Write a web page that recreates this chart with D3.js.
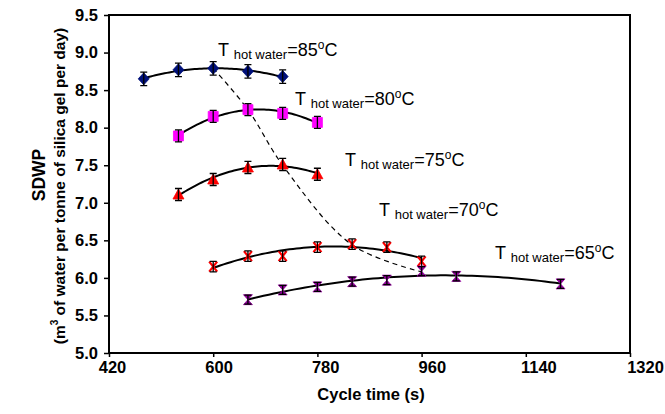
<!DOCTYPE html>
<html>
<head>
<meta charset="utf-8">
<script src="https://cdn.jsdelivr.net/npm/d3@7"></script>
<style>
  body { margin: 0; background: #fff; }
  svg { font-family: "Liberation Sans", Arial, sans-serif; }
</style>
</head>
<body>
<svg id="chart" width="665" height="414"></svg>
<script>
// cycle times (s) and SDWP for each hot water temperature
const time85 = [480, 540, 600, 660, 720];
const sdwp85 = [8.65, 8.77, 8.79, 8.75, 8.68];
const time80 = [540, 600, 660, 720, 780];
const sdwp80 = [7.89, 8.15, 8.24, 8.19, 8.07];
const time75 = [540, 600, 660, 720, 780];
const sdwp75 = [7.11, 7.31, 7.47, 7.51, 7.38];
const time70 = [600, 660, 720, 780, 840, 900, 960];
const sdwp70 = [6.15, 6.29, 6.29, 6.41, 6.45, 6.41, 6.22];
const time65 = [660, 720, 780, 840, 900, 960, 1020, 1200];
const sdwp65 = [5.71, 5.84, 5.88, 5.95, 5.97, 6.09, 6.02, 5.92];
const errBar = [0.09, 0.08, 0.08, 0.07, 0.06];

// optimum cycle time line (dashed)
const optTime = [600, 660, 720, 840, 960];
const optSdwp = [8.79, 8.24, 7.50, 6.44, 6.08];

const temps = ['85', '80', '75', '70', '65'];
const xTicks = [420, 600, 780, 960, 1140, 1320];
const yTicks = [5.0, 5.5, 6.0, 6.5, 7.0, 7.5, 8.0, 8.5, 9.0, 9.5];

const svg = d3.select('#chart');
const plot = {left: 109, right: 630, top: 15, bottom: 353};

let x = d3.scaleLinear().domain([420, 1320]).range([plot.left, plot.right]);
let y = d3.scaleLinear().domain([5.0, 9.5]).range([plot.bottom, plot.top]);

const series = [
    {t: time85, v: sdwp85, marker: 'diamond', color: '#00107a', label: [218, 56]},
    {t: time80, v: sdwp80, marker: 'square', color: '#ff00ff', label: [295, 105]},
    {t: time75, v: sdwp75, marker: 'triangle', color: '#ff0000', label: [345, 166]},
    {t: time70, v: sdwp70, marker: 'cross', color: '#ff0000', label: [379, 216]},
    {t: time65, v: sdwp65, marker: 'hourglass', color: '#90009a', label: [495, 259]},
];
series.forEach((s, i) => { s.err = errBar[i]; s.temp = temps[i]; });

// least squares quadratic, like the spreadsheet trendline
let quadFit = function(ts, vs) {
    let m = d3.mean(ts);
    let S = [0, 0, 0, 0, 0], T = [0, 0, 0];
    ts.forEach((t, i) => {
        let u = t - m;
        for (let k = 0; k < 5; k++) S[k] += Math.pow(u, k);
        for (let k = 0; k < 3; k++) T[k] += vs[i] * Math.pow(u, k);
    });
    let A = [[S[0], S[1], S[2], T[0]], [S[1], S[2], S[3], T[1]], [S[2], S[3], S[4], T[2]]];
    for (let c = 0; c < 3; c++) {
        for (let r = c + 1; r < 3; r++) {
            let f = A[r][c] / A[c][c];
            for (let k = c; k < 4; k++) A[r][k] -= f * A[c][k];
        }
    }
    let b = [0, 0, 0];
    for (let r = 2; r >= 0; r--) {
        let s = A[r][3];
        for (let k = r + 1; k < 3; k++) s -= A[r][k] * b[k];
        b[r] = s / A[r][r];
    }
    return t => b[0] + b[1] * (t - m) + b[2] * (t - m) * (t - m);
};

// axes
let yAxis = d3.axisLeft(y).tickValues(yTicks).tickFormat(d3.format('.1f')).tickSize(5).tickPadding(6);
let xAxis = d3.axisBottom(x).tickValues(xTicks).tickFormat(d3.format('d')).tickSize(4).tickPadding(4);

let gy = svg.append('g').attr('transform', `translate(${plot.left},0)`).call(yAxis);
let gx = svg.append('g').attr('transform', `translate(0,${plot.bottom})`).call(xAxis);
[gx, gy].forEach(g => {
    g.select('.domain').remove();
    g.selectAll('.tick line').attr('stroke', '#000').attr('stroke-width', 1.5);
    g.selectAll('.tick text').attr('fill', '#000').attr('font-size', 16.5)
        .attr('font-weight', 'bold').attr('font-family', '"Liberation Sans", Arial, sans-serif');
});
// the original's tick labels drift slightly right along the axis
gx.selectAll('.tick text').attr('dx', (d, i) => 3 + i * 2.4);

svg.append('rect')
    .attr('x', plot.left).attr('y', plot.top)
    .attr('width', plot.right - plot.left).attr('height', plot.bottom - plot.top)
    .attr('fill', 'none').attr('stroke', '#000').attr('stroke-width', 2);

// dashed optimum line
svg.append('path')
    .datum(optTime.map((t, i) => [t, optSdwp[i]]))
    .attr('fill', 'none').attr('stroke', '#000').attr('stroke-width', 1.2)
    .attr('stroke-dasharray', '5,4')
    .attr('d', d3.line().x(d => x(d[0])).y(d => y(d[1])).curve(d3.curveCatmullRom));

// trend lines
series.forEach(s => {
    let f = quadFit(s.t, s.v);
    let [t0, t1] = d3.extent(s.t);
    let pts = d3.range(t0, t1 + 0.1, (t1 - t0) / 60).map(t => [t, f(t)]);
    svg.append('path').datum(pts)
        .attr('fill', 'none').attr('stroke', '#000').attr('stroke-width', 2)
        .attr('d', d3.line().x(d => x(d[0])).y(d => y(d[1])));
});

let markerPath = function(kind) {
    switch (kind) {
        case 'diamond': return 'M0,-6L5.5,0L0,6L-5.5,0Z';
        case 'square': return 'M-5,-5H5V5H-5Z';
        case 'triangle': return 'M0,-5.5L5.5,4.5H-5.5Z';
        case 'hourglass': return 'M-4.5,-5H4.5L0,0L4.5,5H-4.5L0,0Z';
        default: return 'M-4,-5L4,5M4,-5L-4,5';
    }
};

// points with error bars
series.forEach(s => {
    let data = s.t.map((t, i) => ({t: t, v: s.v[i]}));
    let g = svg.append('g').selectAll('g').data(data).join('g')
        .attr('transform', d => `translate(${x(d.t)},${y(d.v)})`);
    g.append('path')
        .attr('d', markerPath(s.marker))
        .attr('fill', s.marker === 'cross' ? 'none' : s.color)
        .attr('stroke', s.color)
        .attr('stroke-width', s.marker === 'cross' ? 2.2 : 0.8);
    let h = d => y(d.v - s.err) - y(d.v);
    g.append('path')
        .attr('d', d => `M0,${-h(d)}V${h(d)}M-3.5,${-h(d)}H3.5M-3.5,${h(d)}H3.5`)
        .attr('stroke', '#000').attr('stroke-width', 1.3).attr('fill', 'none');
});

// temperature labels
series.forEach(s => {
    let t = svg.append('text')
        .attr('x', s.label[0]).attr('y', s.label[1])
        .attr('font-size', 18).attr('fill', '#000');
    t.append('tspan').text('T ');
    t.append('tspan').attr('font-size', 13).attr('dy', 3).text('hot water');
    t.append('tspan').attr('dy', -3).text('=' + s.temp);
    t.append('tspan').attr('font-size', 12).attr('dy', -7).text('o');
    t.append('tspan').attr('dy', 7).text('C');
});

// axis titles
svg.append('text')
    .attr('x', 371).attr('y', 400).attr('text-anchor', 'middle')
    .attr('font-size', 16.5).attr('font-weight', 'bold')
    .text('Cycle time (s)');

let yt = svg.append('text')
    .attr('transform', 'translate(0,180) rotate(-90)')
    .attr('text-anchor', 'middle').attr('font-weight', 'bold');
yt.append('tspan').attr('x', 5).attr('y', 45).attr('font-size', 17.5).text('SDWP');
let l2 = yt.append('tspan').attr('x', -6).attr('y', 65).attr('font-size', 15.5);
l2.append('tspan').text('(m');
l2.append('tspan').attr('font-size', 10).attr('dy', -7).text('3');
l2.append('tspan').attr('dy', 7).text(' of  water per tonne of silica gel per day)');
</script>
</body>
</html>
